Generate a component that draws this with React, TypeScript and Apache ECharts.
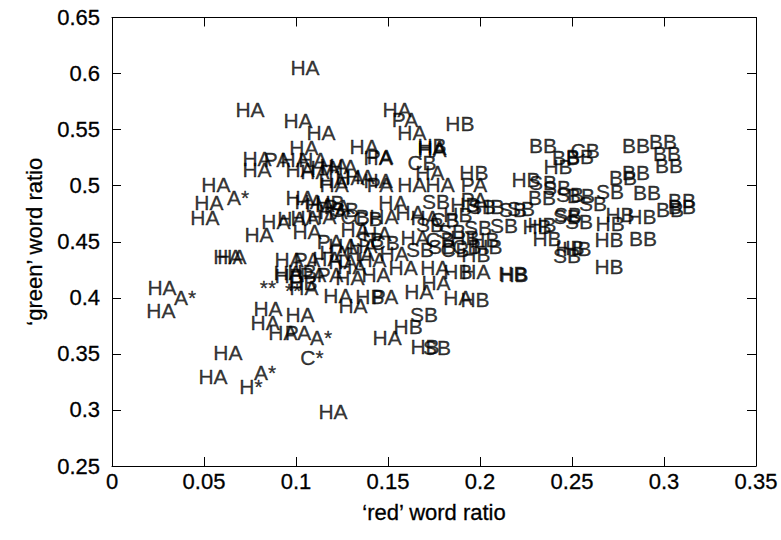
import React, { useEffect, useRef } from "react";
import * as echarts from "echarts";

const xTicks = { min: 0, max: 0.35, interval: 0.05 };
const yTicks = { min: 0.25, max: 0.65, interval: 0.05 };
const xTitle = "\u2018red\u2019 word ratio";
const yTitle = "\u2018green\u2019 word ratio";

const haPoints = [
  [0.1049, 0.605], [0.075, 0.5676], [0.1011, 0.5578], [0.1136, 0.5471], [0.1043, 0.5337],
  [0.1549, 0.5676], [0.163, 0.5471], [0.137, 0.5346], [0.1739, 0.5337], [0.1739, 0.5319],
  [0.0788, 0.5239], [0.0788, 0.514], [0.0995, 0.523], [0.1092, 0.523], [0.1158, 0.5158],
  [0.1255, 0.5167], [0.1446, 0.5247], [0.1201, 0.5042], [0.1293, 0.5069], [0.1348, 0.5078],
  [0.1446, 0.5042], [0.0565, 0.5007], [0.0527, 0.4846], [0.0505, 0.4712], [0.1022, 0.4891],
  [0.1071, 0.4855], [0.113, 0.4828], [0.0891, 0.4677], [0.0978, 0.4703], [0.1049, 0.4712],
  [0.1141, 0.4721], [0.106, 0.4587], [0.0799, 0.4561], [0.1255, 0.4471], [0.1364, 0.4471],
  [0.063, 0.4364], [0.0652, 0.4364], [0.0962, 0.4338], [0.1168, 0.4355], [0.1255, 0.432],
  [0.1413, 0.4338], [0.0957, 0.4222], [0.1293, 0.4177], [0.1435, 0.4204], [0.1043, 0.4088],
  [0.1228, 0.4025], [0.1728, 0.5114], [0.163, 0.5007], [0.1783, 0.5007], [0.1207, 0.5007],
  [0.1527, 0.4846], [0.1201, 0.4766], [0.1478, 0.4721], [0.144, 0.4578], [0.1207, 0.44],
  [0.1348, 0.4391], [0.1533, 0.4391], [0.1304, 0.4275], [0.1582, 0.4266], [0.1755, 0.4266],
  [0.1978, 0.4239], [0.1668, 0.4052], [0.188, 0.3999], [0.131, 0.3927], [0.1761, 0.4141],
  [0.1495, 0.3642], [0.1201, 0.2982], [0.0272, 0.4088], [0.0266, 0.3883], [0.0848, 0.3909],
  [0.1022, 0.3847], [0.0832, 0.3776], [0.0929, 0.3695], [0.063, 0.3508], [0.0549, 0.3294],
  [0.1022, 0.514], [0.1103, 0.5123], [0.162, 0.4757], [0.1701, 0.4712], [0.1647, 0.4534],
  [0.1321, 0.4605], [0.1207, 0.5176]
];

const hbPoints = [
  [0.1891, 0.5551], [0.1967, 0.5114], [0.225, 0.5051], [0.2054, 0.481], [0.1918, 0.4828],
  [0.231, 0.4632], [0.2364, 0.4525], [0.2489, 0.4445], [0.1978, 0.4382], [0.188, 0.4231],
  [0.2185, 0.4204], [0.2179, 0.4213], [0.1973, 0.3981], [0.1609, 0.374], [0.1701, 0.3562],
  [0.2424, 0.5167], [0.2761, 0.4739], [0.288, 0.4721], [0.2707, 0.4659], [0.2337, 0.465],
  [0.2701, 0.4516], [0.2527, 0.4436], [0.2701, 0.4275], [0.1185, 0.4846], [0.0962, 0.4195],
  [0.1033, 0.4239], [0.1038, 0.4141], [0.1402, 0.4016], [0.2043, 0.4454], [0.1739, 0.5355],
  [0.188, 0.4739], [0.1918, 0.4534], [0.2027, 0.4516]
];

const sbPoints = [
  [0.1696, 0.3847], [0.1766, 0.3553], [0.1761, 0.4855], [0.2011, 0.481], [0.2179, 0.4784],
  [0.2223, 0.4801], [0.2473, 0.4721], [0.213, 0.4641], [0.2473, 0.4373], [0.2342, 0.5025],
  [0.2418, 0.498], [0.2489, 0.4917], [0.2707, 0.4944], [0.2538, 0.4677], [0.2478, 0.4739],
  [0.2614, 0.4837], [0.1793, 0.4454], [0.1266, 0.4784], [0.1728, 0.465], [0.1848, 0.4587],
  [0.1989, 0.4623], [0.1674, 0.4427], [0.1402, 0.4516]
];

const bbPoints = [
  [0.2342, 0.5355], [0.2467, 0.5247], [0.2543, 0.5256], [0.2848, 0.5355], [0.2995, 0.539],
  [0.3016, 0.5283], [0.3027, 0.5176], [0.2848, 0.5114], [0.2777, 0.5069], [0.2908, 0.4935],
  [0.3098, 0.4864], [0.3033, 0.4784], [0.3098, 0.481], [0.2886, 0.4525], [0.2337, 0.4891],
  [0.2549, 0.4909]
];

const cbPoints = [
  [0.2571, 0.531], [0.1685, 0.5203], [0.1321, 0.4721], [0.1391, 0.4703], [0.1929, 0.4454],
  [0.181, 0.4694], [0.1783, 0.4516], [0.1864, 0.4427], [0.1484, 0.4489]
];

const paPoints = [
  [0.1592, 0.5587], [0.1457, 0.5256], [0.0897, 0.523], [0.1457, 0.5007], [0.1967, 0.5007],
  [0.1967, 0.4873], [0.1223, 0.481], [0.1185, 0.4498], [0.106, 0.4338], [0.1185, 0.4204],
  [0.1484, 0.4016], [0.1011, 0.3695], [0.1092, 0.4204]
];

const aStarPoints = [[0.0685, 0.4891], [0.0397, 0.3999], [0.1136, 0.365], [0.0832, 0.333]];
const starStarPoints = [[0.0848, 0.4088], [0.0984, 0.4061]];
const cStarPoints = [[0.1087, 0.3472]];
const hStarPoints = [[0.0755, 0.3205]];

const groups: [string, number[][]][] = [
  ["HA", haPoints], ["HB", hbPoints], ["SB", sbPoints], ["BB", bbPoints],
  ["CB", cbPoints], ["PA", paPoints], ["A*", aStarPoints], ["**", starStarPoints],
  ["C*", cStarPoints], ["H*", hStarPoints]
];

const FONT = "'Liberation Sans', Arial, sans-serif";

export default function App() {
  const ref = useRef<HTMLDivElement>(null);
  useEffect(() => {
    if (!ref.current) return;
    const chart = echarts.init(ref.current, undefined, { renderer: "svg" });
    const fmt = (v: number) => String(+v.toFixed(2));
    const txt = { color: "#000", fontFamily: FONT, textBorderColor: "#000", textBorderWidth: 0.3 };
    const axisCommon = {
      axisLine: { show: true, onZero: false, lineStyle: { color: "#000", width: 1 } },
      axisTick: { show: true, inside: true, length: 9, lineStyle: { color: "#000", width: 1 } },
      splitLine: { show: false },
    };
    chart.setOption({
      animation: false,
      backgroundColor: "#fff",
      grid: { left: 112, right: 25, top: 17.5, bottom: 74, containLabel: false },
      xAxis: [
        {
          type: "value", ...xTicks, position: "bottom", ...axisCommon,
          axisLabel: { ...txt, fontSize: 22, margin: 4, formatter: fmt },
          name: xTitle, nameLocation: "middle", nameGap: 35,
          nameTextStyle: { ...txt, fontSize: 22 },
        },
        {
          type: "value", ...xTicks, position: "top", ...axisCommon,
          axisLabel: { show: false },
        },
      ],
      yAxis: [
        {
          type: "value", ...yTicks, position: "left", ...axisCommon,
          axisLabel: { ...txt, fontSize: 22, margin: 12, formatter: fmt },
          name: yTitle, nameLocation: "middle", nameGap: 63,
          nameTextStyle: { ...txt, fontSize: 22 },
        },
        {
          type: "value", ...yTicks, position: "right", ...axisCommon,
          axisLabel: { show: false },
        },
      ],
      series: groups.map(([text, pts]) => ({
        type: "scatter",
        name: text,
        xAxisIndex: 0,
        yAxisIndex: 0,
        data: pts,
        symbolSize: 1,
        itemStyle: { color: "rgba(0,0,0,0)" },
        label: {
          show: true,
          position: "inside",
          formatter: () => text,
          ...txt,
          fontSize: 21,
        },
        emphasis: { disabled: true },
        silent: true,
      })),
    });
    return () => chart.dispose();
  }, []);
  return (
    <div
      ref={ref}
      style={{ position: "fixed", left: 0, top: 0, width: 781, height: 540, background: "#fff" }}
    />
  );
}
